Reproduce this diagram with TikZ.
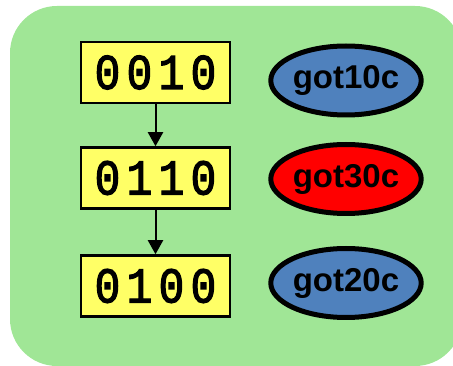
\documentclass[tikz,border=0pt]{standalone}
\usepackage{fontspec}
\setmainfont{Liberation Sans}
\newfontfamily\boxmono[LetterSpace=13,FakeStretch=0.85,FakeBold=2.5]{Liberation Mono}
\usetikzlibrary{shapes.geometric,arrows.meta}
\definecolor{bggreen}{RGB}{160,230,150}
\definecolor{boxyellow}{RGB}{255,255,102}
\definecolor{stateblue}{RGB}{79,129,189}
\definecolor{statered}{RGB}{255,0,0}
\tikzset{
  valbox/.style={draw=black, line width=2.5pt, fill=boxyellow, minimum width=149pt, minimum height=61pt, inner sep=0pt, font=\boxmono\fontsize{50}{52}\selectfont},
  statenode/.style={ellipse, draw=black, line width=5pt, minimum width=147pt, minimum height=69pt, inner sep=0pt, font=\bfseries\fontsize{33}{36}\selectfont},
  flow/.style={line width=2pt, -{Triangle[width=15pt,length=14pt]}}
}
\begin{document}
\begin{tikzpicture}[x=1pt,y=-1pt]
\useasboundingbox (0,0) rectangle (453,366);
\begin{scope}
\clip (0,0) rectangle (453,366);
\fill[bggreen, rounded corners=47pt] (10,6) rectangle (462,366);
\end{scope}
\node[valbox] (b1) at (155.5,72.5) {0010};
\node[valbox] (b2) at (155.5,178) {0110};
\node[valbox] (b3) at (155.5,286) {0100};
\draw[flow] (b1) -- (b2);
\draw[flow] (b2) -- (b3);
\node[statenode, fill=stateblue] (s1) at (346,80.5) {got10c};
\node[statenode, fill=statered] (s2) at (346,179) {got30c};
\node[statenode, fill=stateblue] (s3) at (346,283) {got20c};
\end{tikzpicture}
\end{document}
